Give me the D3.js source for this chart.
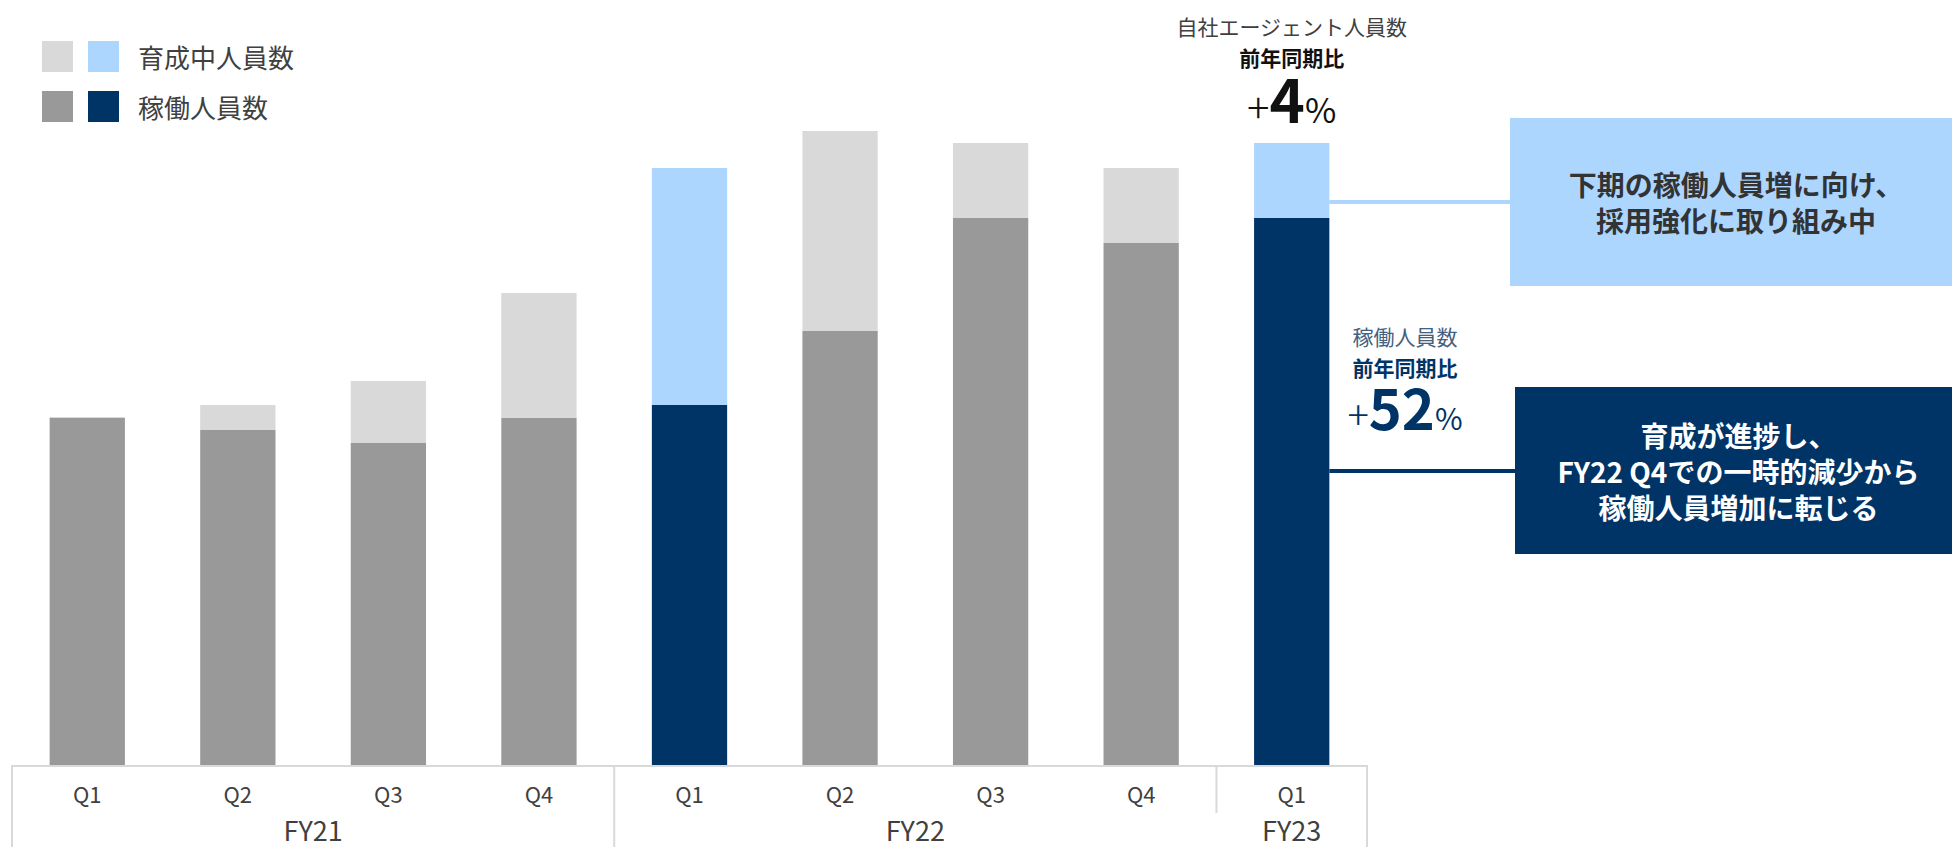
<!DOCTYPE html>
<html lang="ja">
<head>
<meta charset="utf-8">
<title>稼働人員数・育成中人員数</title>
<script src="https://cdn.jsdelivr.net/npm/d3@7"></script>
<style>
  html, body { margin: 0; padding: 0; background: #ffffff; }
  svg { display: block; font-family: "Noto Sans CJK JP", "Noto Sans", sans-serif; }
</style>
</head>
<body>
<svg id="chart" width="1952" height="847"></svg>
<script>
// 四半期ごとの人員数
const fiscalYears = ["FY21", "FY22", "FY23"];
const quarters = ["Q1", "Q2", "Q3", "Q4", "Q1", "Q2", "Q3", "Q4", "Q1"];
const quarterYear = ["FY21", "FY21", "FY21", "FY21", "FY22", "FY22", "FY22", "FY22", "FY23"];
const operating = [347, 335, 322, 347, 360, 434, 547, 522, 547];   // 稼働人員数
const training = [1, 25, 62, 125, 237, 200, 75, 75, 75];           // 育成中人員数
const highlighted = [false, false, false, false, true, false, false, false, true];

const legendLabels = ["育成中人員数", "稼働人員数"];
const totalYoY = "4";
const operatingYoY = "52";

const C = {
  lightGray: "#d9d9d9",
  gray: "#999999",
  lightBlue: "#add6ff",
  navy: "#003466",
  text: "#404040",
  grid: "#d9d9d9"
};

const svg = d3.select("#chart");
const baseY = 765;
const left = 12, right = 1367;

const keys = d3.range(quarters.length);
const x = d3.scaleBand().domain(keys).range([left, right]).paddingInner(0.5).paddingOuter(0.25);
const step = (right - left) / quarters.length;
const y = d3.scaleLinear().domain([0, 700]).range([baseY, baseY - 700]);

// stacked bars
const rows = keys.map(i => ({ i, operating: operating[i], training: training[i] }));
const stack = d3.stack().keys(["operating", "training"])(rows);
const fillFor = (key, i) => key === "operating"
  ? (highlighted[i] ? C.navy : C.gray)
  : (highlighted[i] ? C.lightBlue : C.lightGray);

svg.append("g").selectAll("g").data(stack).join("g")
  .each(function(layer) {
    d3.select(this).selectAll("rect").data(layer).join("rect")
      .attr("x", d => x(d.data.i))
      .attr("width", x.bandwidth())
      .attr("y", d => y(d[1]))
      .attr("height", d => y(d[0]) - y(d[1]))
      .attr("fill", d => fillFor(layer.key, d.data.i));
  });

// category frame below the bars
const frame = svg.append("g").attr("stroke", C.grid).attr("stroke-width", 2).attr("fill", "none");
frame.append("line").attr("x1", left).attr("x2", right).attr("y1", baseY + 1).attr("y2", baseY + 1);
const yearStart = fiscalYears.map(fy => quarterYear.indexOf(fy));
const yearEnd = fiscalYears.map(fy => quarterYear.lastIndexOf(fy) + 1);
// left edge, year boundaries and right edge
[0, yearEnd[0], quarters.length].forEach(k => {
  frame.append("line").attr("x1", left + k * step).attr("x2", left + k * step)
    .attr("y1", baseY).attr("y2", 847);
});
frame.append("line").attr("x1", left + yearEnd[1] * step).attr("x2", left + yearEnd[1] * step)
  .attr("y1", baseY).attr("y2", 813);

// quarter labels
svg.append("g").selectAll("text").data(keys).join("text")
  .attr("x", i => x(i) + x.bandwidth() / 2)
  .attr("y", 803)
  .attr("text-anchor", "middle")
  .attr("font-size", 22)
  .attr("fill", C.text)
  .text(i => quarters[i]);

// fiscal year labels
svg.append("g").selectAll("text").data(fiscalYears).join("text")
  .attr("x", (d, j) => left + (yearStart[j] + yearEnd[j]) / 2 * step)
  .attr("y", 841)
  .attr("text-anchor", "middle")
  .attr("font-size", 27)
  .attr("fill", C.text)
  .text(d => d);

// legend
const legend = svg.append("g");
[[C.lightGray, C.lightBlue], [C.gray, C.navy]].forEach((pair, r) => {
  pair.forEach((col, c) => {
    legend.append("rect").attr("x", 42 + c * 46).attr("y", 41 + r * 50)
      .attr("width", 31).attr("height", 31).attr("fill", col);
  });
  legend.append("text").attr("x", 138).attr("y", 56 + r * 50)
    .attr("dominant-baseline", "central")
    .attr("font-size", 26).attr("fill", C.text)
    .text(legendLabels[r]);
});

// year-over-year callouts
const last = quarters.length - 1;
const lastCenter = x(last) + x.bandwidth() / 2;

function yoyLabel(cx, cy, title, titleColor, color, value, big, plus, pct) {
  const g = svg.append("g");
  g.append("text").attr("x", cx).attr("y", cy)
    .attr("text-anchor", "middle").attr("font-size", 21).attr("fill", titleColor)
    .text(title);
  g.append("text").attr("x", cx).attr("y", cy + 31)
    .attr("text-anchor", "middle").attr("font-size", 21).attr("font-weight", 700).attr("fill", color)
    .text("前年同期比");
  const t = g.append("text").attr("x", cx).attr("y", cy + (big > 58 ? 88 : 85))
    .attr("text-anchor", "middle").attr("fill", color);
  t.append("tspan").attr("font-size", plus).attr("font-weight", 300).text("+");
  t.append("tspan").attr("font-size", big).attr("font-weight", 700).text(value);
  t.append("tspan").attr("font-size", pct).attr("font-weight", 400).text("%");
}
yoyLabel(lastCenter, 35, "自社エージェント人員数", C.text, "#111111", totalYoY, 60, 42, 34);
yoyLabel(1405, 345, "稼働人員数", "#44607e", C.navy, operatingYoY, 56, 40, 30);

// comment boxes with connectors
function callout(box, fill, lineColor, textColor, lines, lineY) {
  const g = svg.append("g");
  g.append("line")
    .attr("x1", x(last) + x.bandwidth()).attr("x2", box.x)
    .attr("y1", lineY).attr("y2", lineY)
    .attr("stroke", lineColor).attr("stroke-width", 4);
  g.append("rect").attr("x", box.x).attr("y", box.y)
    .attr("width", box.w).attr("height", box.h).attr("fill", fill);
  const cx = box.x + box.w / 2 + 5;
  const lh = 36;
  const y0 = box.y + box.h / 2 - (lines.length - 1) * lh / 2;
  lines.forEach((s, k) => {
    g.append("text").attr("x", cx).attr("y", y0 + k * lh)
      .attr("text-anchor", "middle").attr("dominant-baseline", "central")
      .attr("font-size", 28).attr("font-weight", 700).attr("fill", textColor)
      .text(s);
  });
}
callout({ x: 1510, y: 118, w: 442, h: 168 }, C.lightBlue, C.lightBlue, "#333333",
  ["下期の稼働人員増に向け、", "採用強化に取り組み中"], 202);
callout({ x: 1515, y: 387, w: 437, h: 167 }, C.navy, C.navy, "#ffffff",
  ["育成が進捗し、", "FY22 Q4での一時的減少から", "稼働人員増加に転じる"], 471);
</script>
</body>
</html>
